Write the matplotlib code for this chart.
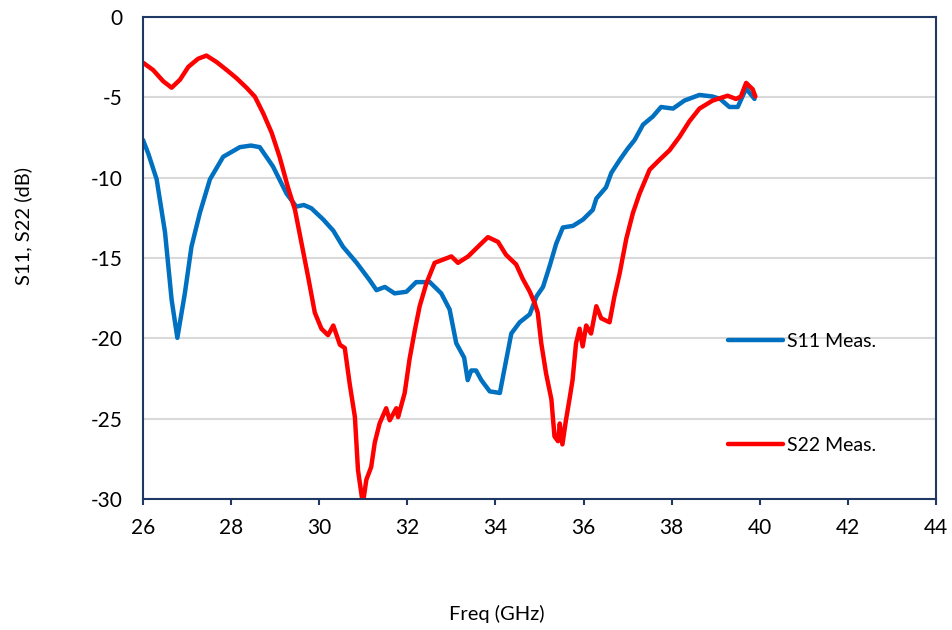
import matplotlib
matplotlib.use('Agg')
import matplotlib.pyplot as plt

plt.rcParams['font.family'] = ['Lato', 'DejaVu Sans']
plt.rcParams['axes.unicode_minus'] = False

s11_freq = [26.0, 26.12, 26.31, 26.5, 26.65, 26.78, 26.95, 27.1, 27.29, 27.52,
            27.82, 28.2, 28.45, 28.65, 28.95, 29.26, 29.48, 29.65, 29.82, 30.09,
            30.32, 30.54, 30.85, 31.15, 31.3, 31.49, 31.71, 31.98, 32.2, 32.51,
            32.77, 32.96, 33.11, 33.29, 33.37, 33.45, 33.56, 33.68, 33.87, 34.1,
            34.17, 34.36, 34.55, 34.78, 34.93, 35.08, 35.23, 35.38, 35.53, 35.76,
            35.99, 36.21, 36.29, 36.51, 36.63, 36.82, 37.0, 37.16, 37.35, 37.57,
            37.76, 38.03, 38.29, 38.63, 38.93, 39.1, 39.31, 39.5, 39.69, 39.88]
s11_db = [-7.65, -8.5, -10.1, -13.4, -17.6, -19.97, -17.2, -14.3, -12.2, -10.1,
          -8.7, -8.1, -8.0, -8.1, -9.3, -11.0, -11.8, -11.7, -11.9, -12.6,
          -13.3, -14.3, -15.3, -16.4, -17.0, -16.8, -17.2, -17.1, -16.5, -16.5,
          -17.2, -18.2, -20.3, -21.2, -22.6, -22.0, -22.0, -22.6, -23.3, -23.4,
          -22.4, -19.7, -19.0, -18.5, -17.4, -16.8, -15.5, -14.1, -13.1, -13.0,
          -12.6, -12.0, -11.3, -10.6, -9.7, -8.9, -8.2, -7.65, -6.7, -6.2,
          -5.6, -5.7, -5.2, -4.85, -4.95, -5.1, -5.6, -5.6, -4.45, -5.1]

# S22 measured
s22_freq = [26.0, 26.23, 26.46, 26.65, 26.84, 27.03, 27.25, 27.44, 27.67, 27.9,
            28.12, 28.35, 28.54, 28.73, 28.92, 29.1, 29.29, 29.45, 29.6, 29.75,
            29.9, 30.05, 30.2, 30.32, 30.47, 30.58, 30.69, 30.81, 30.88, 30.99,
            31.07, 31.18, 31.26, 31.37, 31.52, 31.6, 31.75, 31.79, 31.94, 32.05,
            32.17, 32.28, 32.43, 32.62, 32.81, 33.0, 33.15, 33.38, 33.64, 33.83,
            34.06, 34.24, 34.47, 34.62, 34.78, 34.89, 34.96, 35.04, 35.15, 35.27,
            35.34, 35.42, 35.46, 35.52, 35.6, 35.68, 35.75, 35.83, 35.91, 35.98,
            36.06, 36.17, 36.29, 36.4, 36.59, 36.7, 36.82, 36.97, 37.12, 37.27,
            37.5, 37.72, 37.95, 38.18, 38.4, 38.63, 38.93, 39.27, 39.46, 39.57,
            39.69, 39.84, 39.9]
s22_db = [-2.84, -3.3, -4.0, -4.4, -3.9, -3.1, -2.6, -2.4, -2.8, -3.3,
          -3.8, -4.4, -4.96, -6.0, -7.2, -8.7, -10.6, -12.0, -14.1, -16.2,
          -18.4, -19.4, -19.8, -19.2, -20.4, -20.6, -22.8, -24.9, -28.2, -30.3,
          -28.8, -28.0, -26.5, -25.3, -24.35, -25.1, -24.35, -24.9, -23.4, -21.3,
          -19.5, -18.0, -16.6, -15.3, -15.1, -14.9, -15.3, -14.9, -14.2, -13.7,
          -14.0, -14.8, -15.4, -16.3, -17.1, -17.8, -18.4, -20.3, -22.2, -23.8,
          -26.1, -26.4, -25.3, -26.6, -25.1, -23.8, -22.6, -20.3, -19.4, -20.5,
          -19.2, -19.7, -18.0, -18.75, -19.0, -17.4, -15.95, -13.8, -12.2, -11.0,
          -9.5, -8.9, -8.3, -7.45, -6.5, -5.7, -5.2, -4.9, -5.1, -4.95,
          -4.1, -4.5, -4.95]

x_ticks = [26, 28, 30, 32, 34, 36, 38, 40, 42, 44]
y_ticks = [0, -5, -10, -15, -20, -25, -30]

navy = '#1F3864'

fig = plt.figure(figsize=(9.52, 6.3), dpi=100)
ax = fig.add_axes([0.1502, 0.2079, 0.8330, 0.7651])

ax.plot(s11_freq, s11_db, color='#0070C0', lw=3.2, label='S11 Meas.',
        solid_capstyle='round', solid_joinstyle='round')
ax.plot(s22_freq, s22_db, color='#FF0000', lw=3.2, label='S22 Meas.',
        solid_capstyle='round', solid_joinstyle='round')

ax.set_xlim(26, 44)
ax.set_ylim(-30, 0)
ax.set_xticks(x_ticks)
ax.set_yticks(y_ticks)
ax.yaxis.grid(True, color='#D9D9D9', lw=1.5)
ax.set_axisbelow(True)

for s in ax.spines.values():
    s.set_color(navy)
    s.set_linewidth(1.5)

ax.tick_params(axis='x', direction='out', length=4.5, width=1.5, color=navy,
               pad=9, labelsize=15)
ax.tick_params(axis='y', length=0, pad=15, labelsize=15)

ax.set_xlabel('Freq (GHz)', fontsize=14.5)
ax.set_ylabel('S11, S22 (dB)', fontsize=14.5)
ax.xaxis.set_label_coords(0.446, -0.22)
ax.yaxis.set_label_coords(-0.14, 0.566)

ax.legend(loc='upper left', bbox_to_anchor=(0.738, 0.344), frameon=False,
          borderpad=0, borderaxespad=0, handlelength=2.8, handletextpad=0.2,
          labelspacing=4.45, fontsize=14)

fig.savefig('out.png', dpi=100)
